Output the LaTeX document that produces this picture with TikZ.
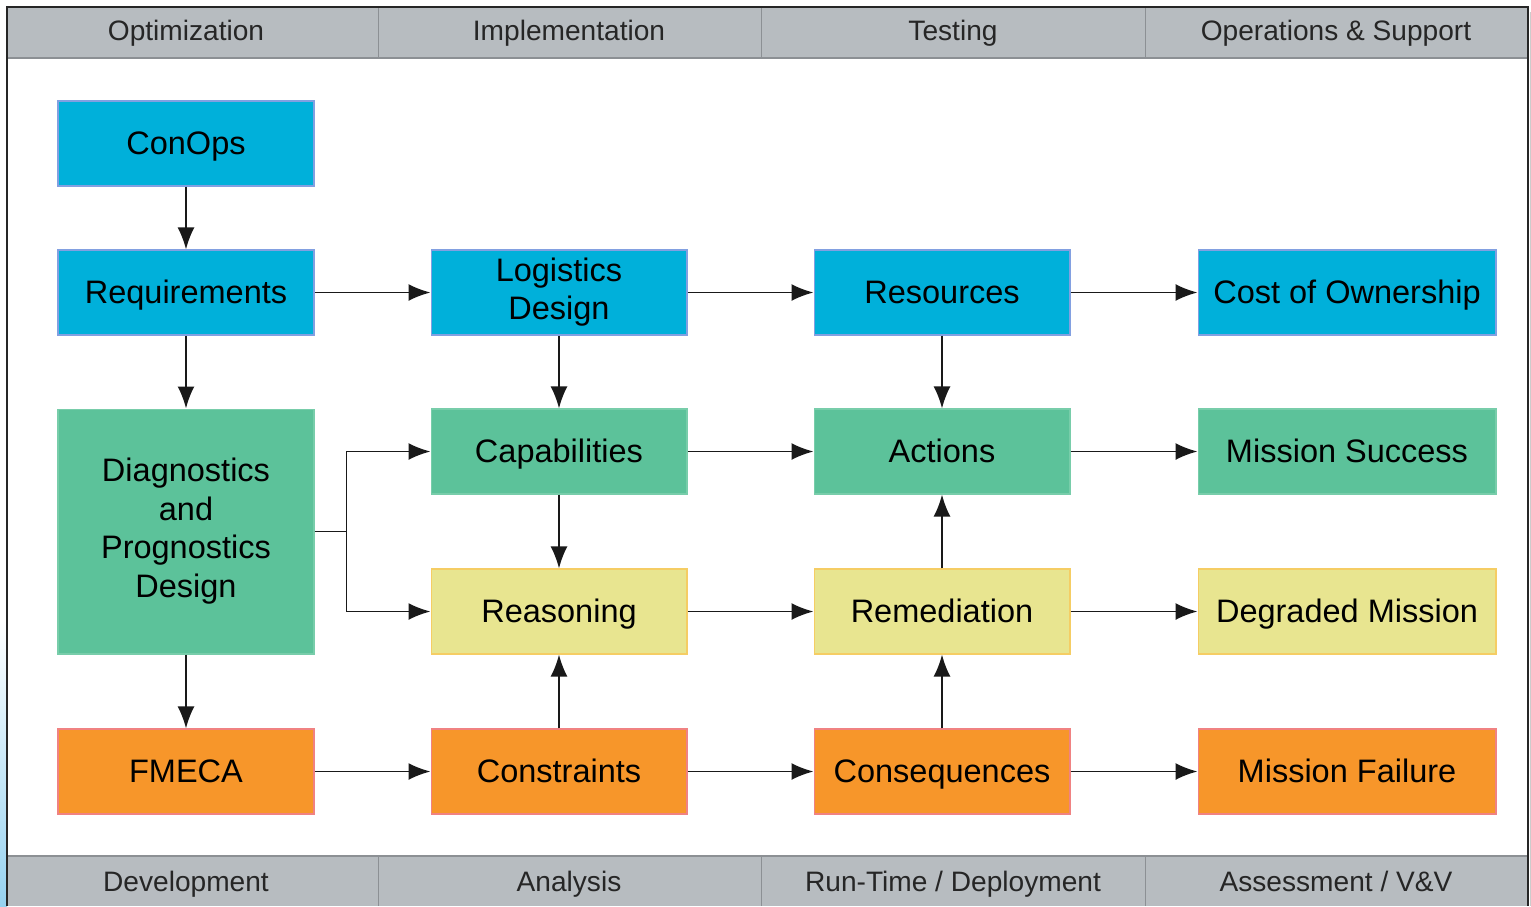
\documentclass[tikz,border=0pt]{standalone}
\usepackage{fontspec}
\setmainfont{Liberation Sans}
\usetikzlibrary{arrows.meta}

\definecolor{hdrgray}{RGB}{183,188,192}
\definecolor{hdrline}{RGB}{140,144,148}
\definecolor{bluefill}{RGB}{0,176,218}
\definecolor{blueline}{RGB}{130,160,225}
\definecolor{greenfill}{RGB}{92,194,154}
\definecolor{greenline}{RGB}{120,205,170}
\definecolor{yellowfill}{RGB}{232,229,144}
\definecolor{yellowline}{RGB}{245,205,100}
\definecolor{orangefill}{RGB}{247,150,42}
\definecolor{orangeline}{RGB}{240,130,130}
\definecolor{edgeblue}{RGB}{150,210,240}

\tikzset{
  box/.style={rectangle, minimum width=5.12cm, minimum height=1.7cm,
    inner sep=0pt, align=center, font=\fontsize{18.5}{22}\selectfont,
    line width=0.6pt, execute at begin node=\rule[-4.2pt]{0pt}{20.8pt}},
  bluebox/.style={box, fill=bluefill, draw=blueline},
  greenbox/.style={box, fill=greenfill, draw=greenline},
  yellowbox/.style={box, fill=yellowfill, draw=yellowline},
  orangebox/.style={box, fill=orangefill, draw=orangeline},
  hdr/.style={font=\fontsize{16}{19}\selectfont, text=black!85,
    inner sep=0pt, execute at begin node=\rule[-3.8pt]{0pt}{18.3pt}},
  link/.style={->, line width=1.1pt, draw=black!90}
}

\begin{document}
\begin{tikzpicture}[x=0.02cm, y=-0.02cm, >={Latex[length=0.44cm,width=0.34cm]}]

% page and frame
\useasboundingbox (0,0) rectangle (1531,906);
\fill[white] (0,0) rectangle (1531,906);
\shade[top color=white, bottom color=edgeblue] (0,620) rectangle (7,906);
\fill[gray!40] (1530,12) rectangle (1531,906);

% header and footer bands
\fill[hdrgray] (7,7) rectangle (1528,58);
\fill[hdrgray] (7,856) rectangle (1528,906);
\draw[hdrline, line width=0.8pt] (7,58) -- (1528,58);
\draw[hdrline, line width=0.8pt] (7,856) -- (1528,856);
\draw[hdrline, line width=0.5pt] (378,7) -- (378,58) (761,7) -- (761,58) (1145,7) -- (1145,58);
\draw[hdrline, line width=0.5pt] (378,856) -- (378,906) (761,856) -- (761,906) (1145,856) -- (1145,906);
\draw[black!85, line width=1.2pt] (7,906) -- (7,7) -- (1528,7) -- (1528,906);

\node (hopt) [hdr] at (186,31) {Optimization};
\node (himp) [hdr] at (569,31) {Implementation};
\node (htst) [hdr] at (953,31) {Testing};
\node (hops) [hdr] at (1336,31) {Operations \& Support};

\node (fdev) [hdr] at (186,882) {Development};
\node (fana) [hdr] at (569,882) {Analysis};
\node (frun) [hdr] at (953,882) {Run-Time / Deployment};
\node (fass) [hdr] at (1336,882) {Assessment / V\&V};

% boxes
\node (conops) [bluebox] at (186,143.5) {ConOps};
\node (req)    [bluebox] at (186,292.5) {Requirements};
\node (log)    [bluebox] at (559,292.5) {Logistics\\Design};
\node (res)    [bluebox] at (942,292.5) {Resources};
\node (cost)   [bluebox, minimum width=5.96cm] at (1347,292.5) {Cost of Ownership};

\node (diag)   [greenbox, minimum height=4.9cm] at (186,531.5) {Diagnostics\\and\\Prognostics\\Design};
\node (cap)    [greenbox] at (559,451.5) {Capabilities};
\node (act)    [greenbox] at (942,451.5) {Actions};
\node (succ)   [greenbox, minimum width=5.96cm] at (1347,451.5) {Mission Success};

\node (reas)   [yellowbox] at (559,611.5) {Reasoning};
\node (rem)    [yellowbox] at (942,611.5) {Remediation};
\node (degr)   [yellowbox, minimum width=5.96cm] at (1347,611.5) {Degraded Mission};

\node (fmeca)  [orangebox] at (186,771.5) {FMECA};
\node (cons)   [orangebox] at (559,771.5) {Constraints};
\node (conseq) [orangebox] at (942,771.5) {Consequences};
\node (fail)   [orangebox, minimum width=5.96cm] at (1347,771.5) {Mission Failure};

% connectors
\draw[link] (conops) -- (req);
\draw[link] (req) -- (log);
\draw[link] (log) -- (res);
\draw[link] (res) -- (cost);
\draw[link] (req) -- (diag);
\draw[link] (log) -- (cap);
\draw[link] (res) -- (act);
\draw[link] (diag.east) -- ++(32,0) |- (cap.west);
\draw[link] (diag.east) -- ++(32,0) |- (reas.west);
\draw[link] (cap) -- (act);
\draw[link] (act) -- (succ);
\draw[link] (cap) -- (reas);
\draw[link] (reas) -- (rem);
\draw[link] (rem) -- (degr);
\draw[link] (rem) -- (act);
\draw[link] (diag) -- (fmeca);
\draw[link] (fmeca) -- (cons);
\draw[link] (cons) -- (conseq);
\draw[link] (conseq) -- (fail);
\draw[link] (cons) -- (reas);
\draw[link] (conseq) -- (rem);

\end{tikzpicture}
\end{document}
